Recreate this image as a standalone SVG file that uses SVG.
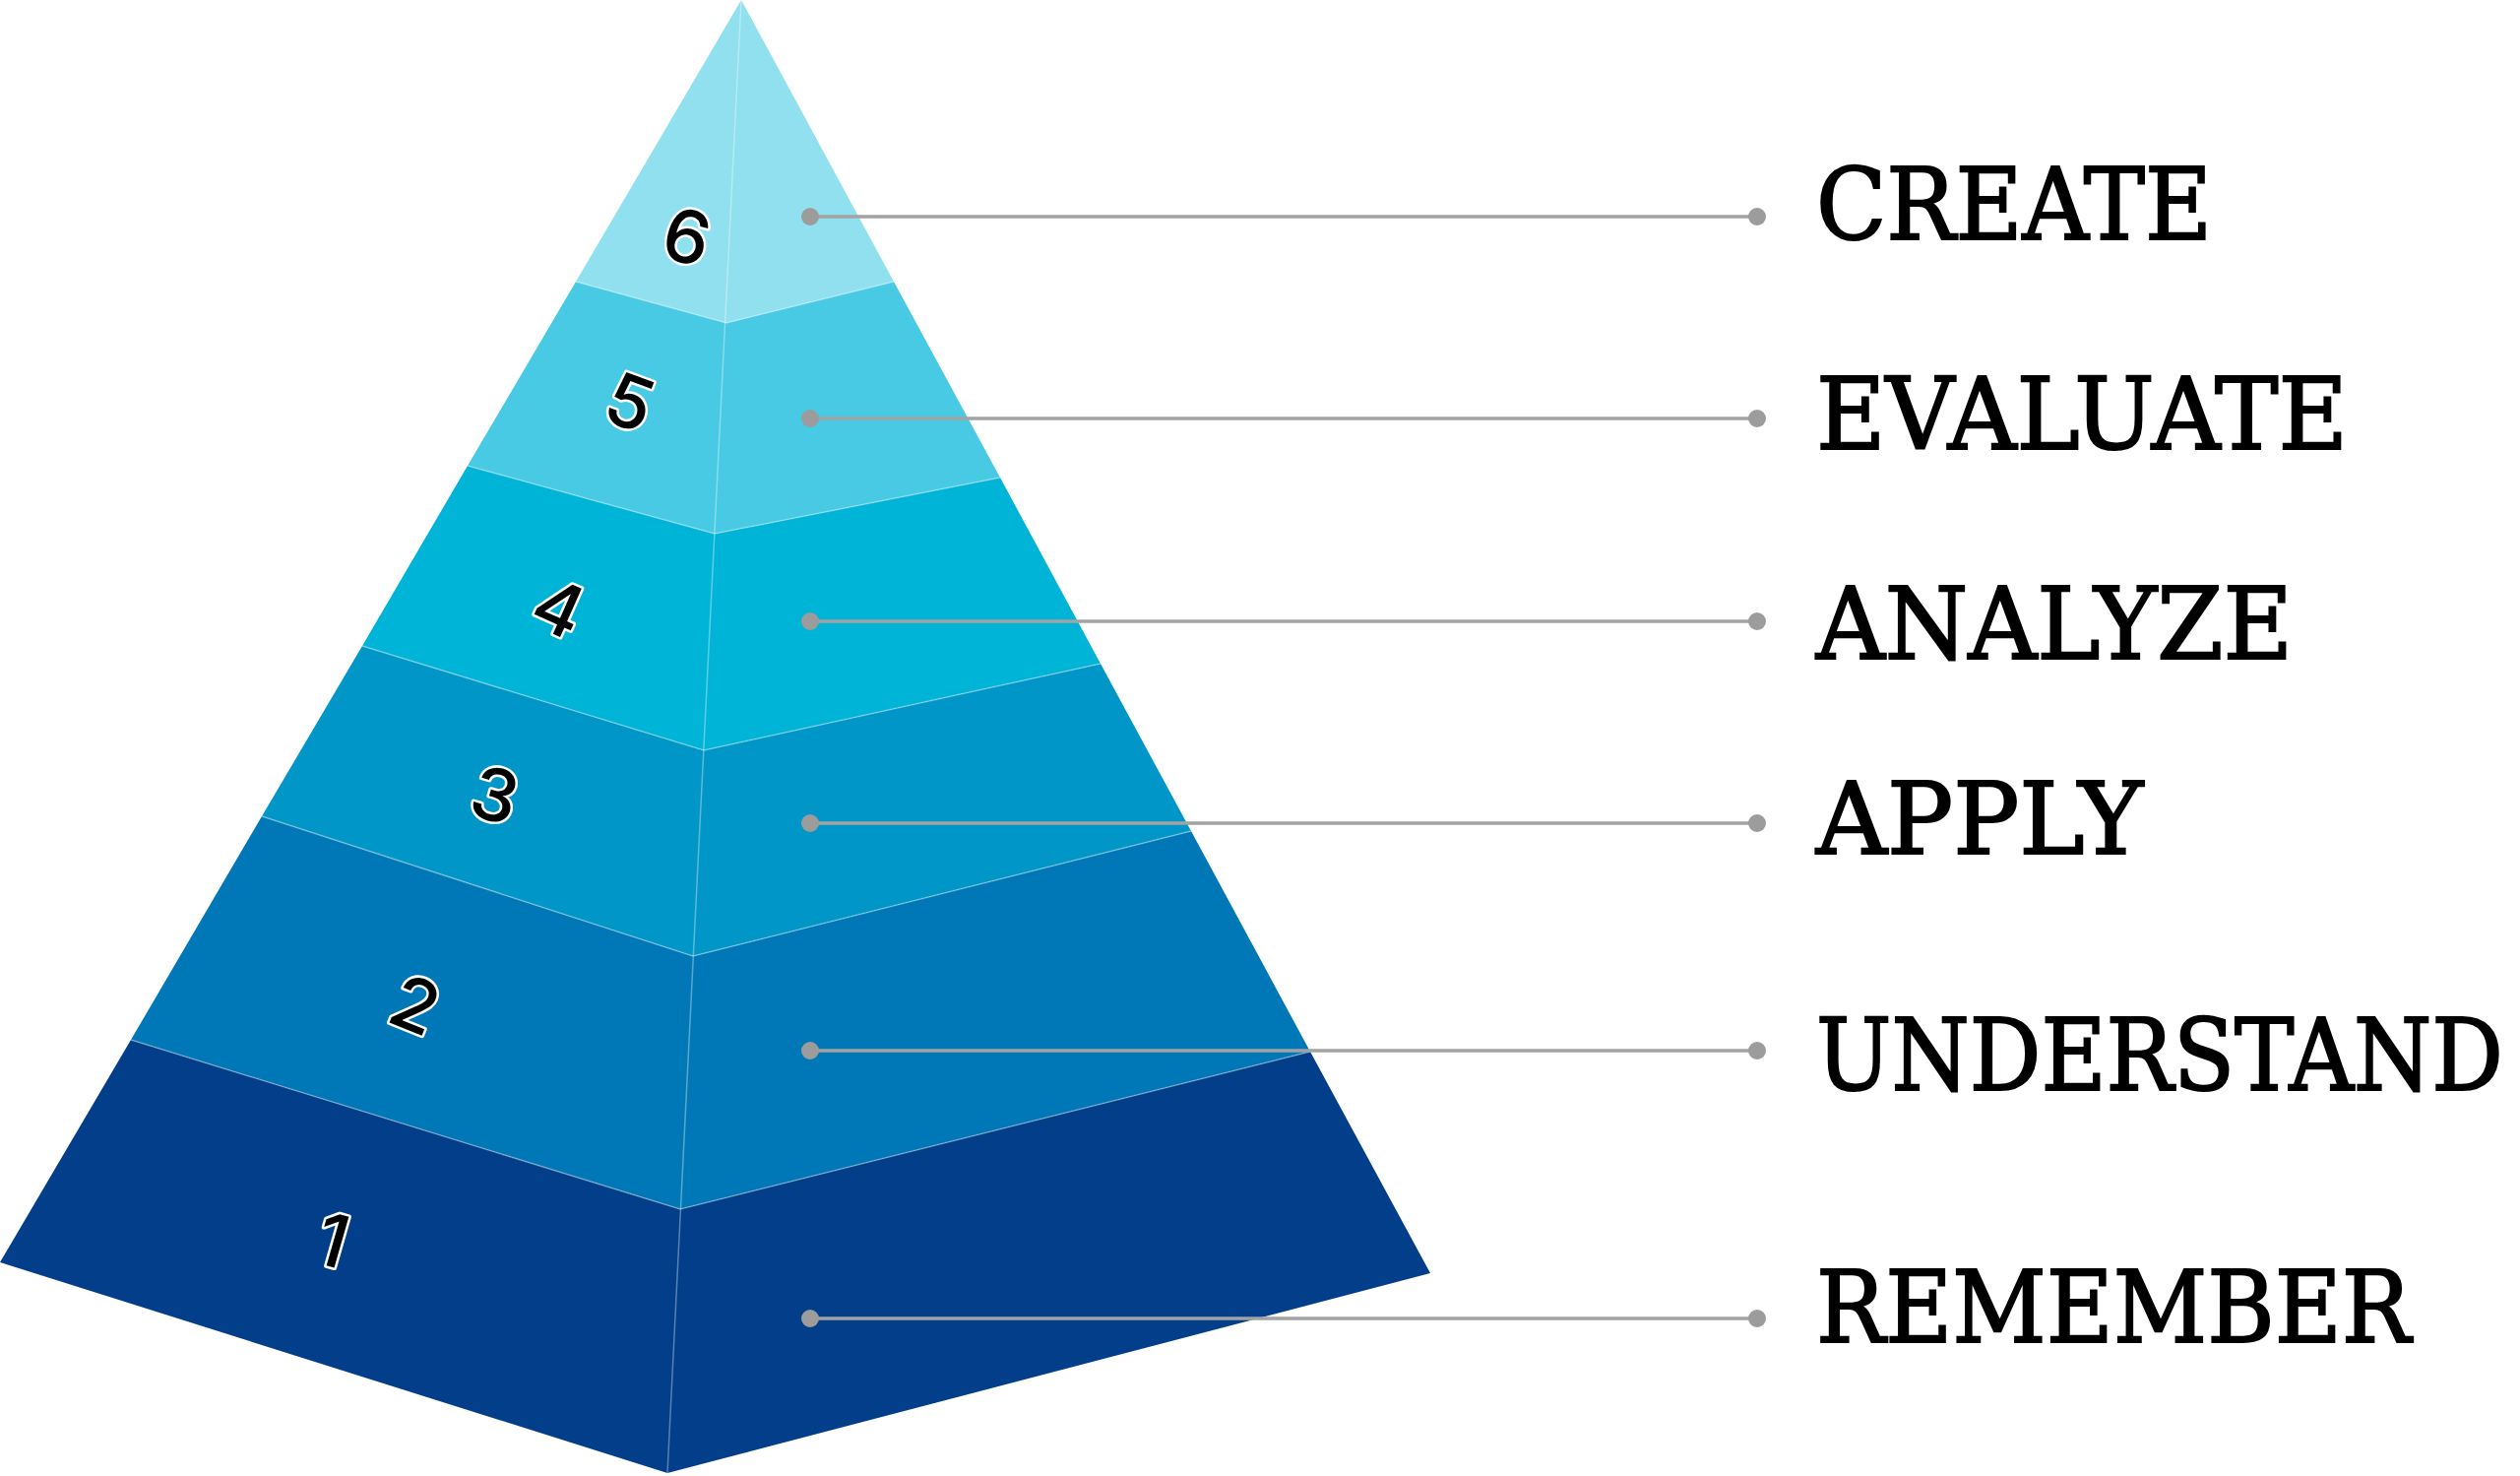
<svg xmlns="http://www.w3.org/2000/svg" width="2560" height="1499" viewBox="0 0 2560 1499">
<style>
.sep{fill:none;stroke:#ffffff;stroke-opacity:0.35;stroke-width:1.5}
.num{font-family:Inter,"Noto Sans",sans-serif;font-weight:500;font-size:74px;fill:#000;stroke:#fff;stroke-width:5;paint-order:stroke;stroke-linejoin:round;text-anchor:middle}
.lbl{font-family:"DejaVu Serif","Liberation Serif",serif;font-size:85px;fill:#000;stroke:#000;stroke-width:1.8}
.con line{stroke:#a3a3a3;stroke-width:3.5}
.con circle{fill:#9c9c9c}
</style>
<rect width="2560" height="1499" fill="#fff"/>
<g id="layer6"><polygon points="753,0 908,286 738,328 585,286" fill="#90e0ef"/></g>
<g id="layer5"><polygon points="585,286 738,328 908,286 1016,485 726,542 475,473" fill="#48cae4"/></g>
<g id="layer4"><polygon points="475,473 726,542 1016,485 1118,674 715,762 368,656" fill="#00b4d8"/></g>
<g id="layer3"><polygon points="368,656 715,762 1118,674 1210,844 704,971 266,829" fill="#0096c7"/></g>
<g id="layer2"><polygon points="266,829 704,971 1210,844 1331,1068 691,1228 133,1056" fill="#0077b6"/></g>
<g id="layer1"><polygon points="133,1056 691,1228 1331,1068 1453,1293 678,1496 0,1282" fill="#023e8a"/></g>
<g id="separators">
<polyline class="sep" points="753,0 678,1496"/>
<polyline class="sep" points="585,286 738,328 908,286"/>
<polyline class="sep" points="475,473 726,542 1016,485"/>
<polyline class="sep" points="368,656 715,762 1118,674"/>
<polyline class="sep" points="266,829 704,971 1210,844"/>
<polyline class="sep" points="133,1056 691,1228 1331,1068"/>
</g>
<g id="numbers">
<text class="num" transform="translate(698,240) rotate(14)" y="27">6</text>
<text class="num" transform="translate(640,408) rotate(20)" y="27">5</text>
<text class="num" transform="translate(568,617) rotate(24)" y="27">4</text>
<text class="num" transform="translate(503,807) rotate(16)" y="27">3</text>
<text class="num" transform="translate(422,1020) rotate(22)" y="27">2</text>
<text class="num" transform="translate(338,1259) rotate(16)" y="27">1</text>
</g>
<g id="connectors" class="con">
<line x1="823" y1="220" x2="1785" y2="220"/><circle cx="823" cy="220" r="9"/><circle cx="1785" cy="220" r="9"/>
<line x1="823" y1="425" x2="1785" y2="425"/><circle cx="823" cy="425" r="9"/><circle cx="1785" cy="425" r="9"/>
<line x1="823" y1="631" x2="1785" y2="631"/><circle cx="823" cy="631" r="9"/><circle cx="1785" cy="631" r="9"/>
<line x1="823" y1="836" x2="1785" y2="836"/><circle cx="823" cy="836" r="9"/><circle cx="1785" cy="836" r="9"/>
<line x1="823" y1="1067" x2="1785" y2="1067"/><circle cx="823" cy="1067" r="9"/><circle cx="1785" cy="1067" r="9"/>
<line x1="823" y1="1339" x2="1785" y2="1339"/><circle cx="823" cy="1339" r="9"/><circle cx="1785" cy="1339" r="9"/>
</g>
<g id="labels">
<text id="create" class="lbl" transform="translate(1845,243) scale(1,1.19)" textLength="402" lengthAdjust="spacingAndGlyphs">CREATE</text>
<text id="evaluate" class="lbl" transform="translate(1845,456) scale(1,1.19)" textLength="540" lengthAdjust="spacingAndGlyphs">EVALUATE</text>
<text id="analyze" class="lbl" transform="translate(1845,669) scale(1,1.19)" textLength="484" lengthAdjust="spacingAndGlyphs">ANALYZE</text>
<text id="apply" class="lbl" transform="translate(1845,867) scale(1,1.19)" textLength="332" lengthAdjust="spacingAndGlyphs">APPLY</text>
<text id="understand" class="lbl" transform="translate(1845,1107) scale(1,1.19)" textLength="698" lengthAdjust="spacingAndGlyphs">UNDERSTAND</text>
<text id="remember" class="lbl" transform="translate(1845,1363) scale(1,1.19)" textLength="604" lengthAdjust="spacingAndGlyphs">REMEMBER</text>
</g>
</svg>
